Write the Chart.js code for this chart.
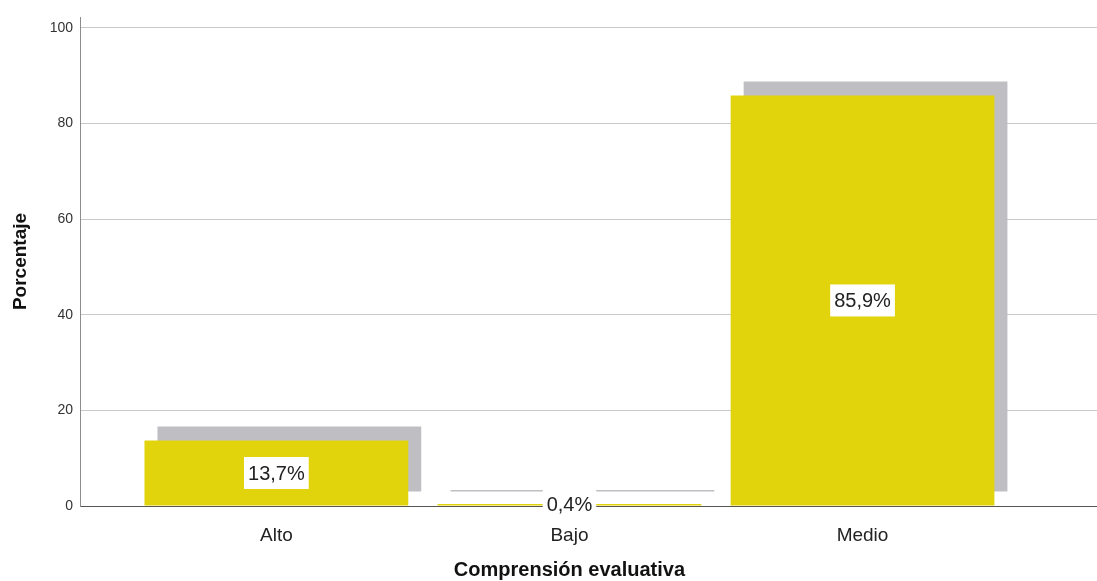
<!DOCTYPE html>
<html>
<head>
<meta charset="utf-8">
<script src="https://cdn.jsdelivr.net/npm/chart.js@4.4.1/dist/chart.umd.min.js"></script>
<style>
  html, body { margin: 0; padding: 0; background: #fff; }
  #wrap { width: 1097px; height: 581px; position: relative; }
</style>
</head>
<body>
<div id="wrap"><canvas id="barChart"></canvas></div>
<script>
// values
const categories = ['Alto', 'Bajo', 'Medio'];
const categoryPos = [1, 2, 3];
const percentages = [13.7, 0.4, 85.9];
const yTicks = [0, 20, 40, 60, 80, 100];

const barColor = '#e1d40d';
const shadowColor = '#bfbec2';
const fontFamily = '"Liberation Sans", Arial, sans-serif';

// grey offset shadow behind each bar (SPSS style)
const barShadow = {
    id: 'barShadow',
    beforeDatasetDraw(chart) {
        const ctx = chart.ctx;
        ctx.save();
        ctx.shadowColor = shadowColor;
        ctx.shadowOffsetX = 13;
        ctx.shadowOffsetY = -14;
        ctx.shadowBlur = 0;
    },
    afterDatasetDraw(chart) {
        chart.ctx.restore();
    }
};

// percentage labels in white boxes at the middle of each bar
const barLabels = {
    id: 'barLabels',
    afterDraw(chart) {
        const ctx = chart.ctx;
        const meta = chart.getDatasetMeta(0);
        ctx.save();
        ctx.font = '20px ' + fontFamily;
        ctx.textAlign = 'center';
        ctx.textBaseline = 'middle';
        meta.data.forEach((bar, i) => {
            const text = percentages[i].toFixed(1).replace('.', ',') + '%';
            const w = ctx.measureText(text).width + 8;
            const h = 32;
            const cy = (bar.y + bar.base) / 2;
            ctx.fillStyle = '#fff';
            ctx.fillRect(bar.x - w / 2, cy - h / 2, w, h);
            ctx.fillStyle = '#222';
            ctx.fillText(text, bar.x, cy + 1);
        });
        ctx.restore();
    }
};

// x title is centred on the middle category, not the plot area
const xTitle = {
    id: 'xTitle',
    afterDraw(chart) {
        const ctx = chart.ctx;
        const x = chart.scales.x.getPixelForValue(categoryPos[1]);
        ctx.save();
        ctx.font = 'bold 20px ' + fontFamily;
        ctx.textAlign = 'center';
        ctx.textBaseline = 'alphabetic';
        ctx.fillStyle = '#111';
        ctx.fillText('Comprensión evaluativa', x, chart.chartArea.bottom + 70);
        ctx.restore();
    }
};

new Chart(document.getElementById('barChart'), {
    type: 'bar',
    data: {
        datasets: [{
            data: categoryPos.map((x, i) => ({ x: x, y: percentages[i] })),
            backgroundColor: barColor,
            borderWidth: 0,
            barPercentage: 0.9,
            categoryPercentage: 1.0
        }]
    },
    options: {
        responsive: true,
        maintainAspectRatio: false,
        animation: false,
        layout: { padding: { top: 17, right: 0, left: 0, bottom: 0 } },
        plugins: {
            legend: { display: false },
            tooltip: { enabled: false }
        },
        scales: {
            x: {
                type: 'linear',
                offset: false,
                min: 0.33,
                max: 3.8,
                afterBuildTicks: s => { s.ticks = categoryPos.map(v => ({ value: v })); },
                afterFit: s => { s.height = 75; },
                grid: { display: false, drawTicks: false },
                border: { display: true, color: '#555' },
                ticks: {
                    callback: v => categories[categoryPos.indexOf(v)],
                    font: { family: fontFamily, size: 19 },
                    color: '#222',
                    padding: 18,
                    maxRotation: 0,
                    autoSkip: false
                }
            },
            y: {
                min: 0,
                max: 102.3,
                afterBuildTicks: s => { s.ticks = yTicks.map(v => ({ value: v })); },
                afterFit: s => { s.width = 80; },
                grid: { color: '#c8c8c8', drawTicks: false },
                border: { color: '#8c8c8c' },
                ticks: {
                    font: { family: fontFamily, size: 14 },
                    color: '#333',
                    padding: 7
                },
                title: {
                    display: true,
                    text: 'Porcentaje',
                    font: { family: fontFamily, size: 19, weight: 'bold' },
                    color: '#111',
                    padding: { top: 9, bottom: 0 }
                }
            }
        }
    },
    plugins: [barShadow, barLabels, xTitle]
});
</script>
</body>
</html>
